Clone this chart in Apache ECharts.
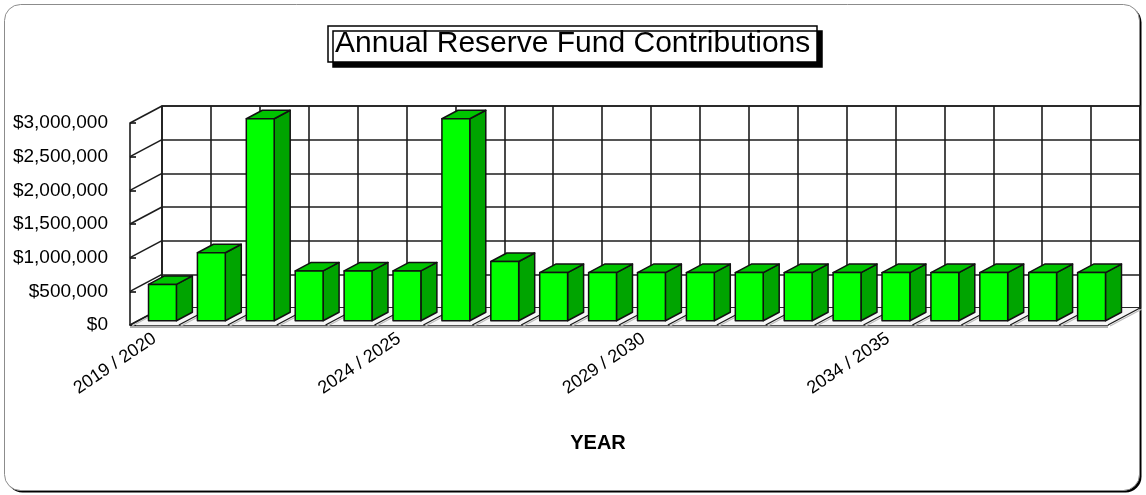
<!DOCTYPE html>
<html>
<head>
<meta charset="utf-8">
<script src="https://cdn.jsdelivr.net/npm/echarts@6/dist/echarts.min.js"></script>
<style>
html,body{margin:0;padding:0;background:#fff;}
#chart{width:1146px;height:495px;}
</style>
</head>
<body>
<div id="chart"></div>
<script>
// ---- data ----
const categories = [
  '2019 / 2020','2020 / 2021','2021 / 2022','2022 / 2023','2023 / 2024',
  '2024 / 2025','2025 / 2026','2026 / 2027','2027 / 2028','2028 / 2029',
  '2029 / 2030','2030 / 2031','2031 / 2032','2032 / 2033','2033 / 2034',
  '2034 / 2035','2035 / 2036','2036 / 2037','2037 / 2038','2038 / 2039'
];
const contributions = [
  540000, 1010000, 3000000, 740000, 740000, 740000, 3000000, 880000, 715000, 715000,
  715000, 715000, 715000, 715000, 715000, 715000, 715000, 715000, 715000, 715000
];
const yTickValues = [0, 500000, 1000000, 1500000, 2000000, 2500000, 3000000];
const yMin = 0, yMax = 3000000, yStep = 500000;
const titleText = 'Annual Reserve Fund Contributions';
const axisName = 'YEAR';

// ---- style constants ----
const DX = 32, DY = -17;          // depth offset of the back wall
const LINE = '#1c1c1c';
const FRONT = '#00ff00', TOP = '#00c400', SIDE = '#00a400';
const FONT = 'Liberation Sans, Arial, sans-serif';

const chart = echarts.init(document.getElementById('chart'), null, {renderer: 'canvas'});

function fmtMoney(v) {
  return '$' + Number(v).toLocaleString('en-US');
}

function renderWalls(params, api) {
  const cs = params.coordSys;
  const children = [];
  const y0 = api.coord([0, 0])[1];
  const n = categories.length;
  children.push({
    type: 'polygon', z2: 0,
    shape: {points: [[cs.x, y0], [cs.x + cs.width, y0], [cs.x + cs.width + DX, y0 + DY], [cs.x + DX, y0 + DY]]},
    style: {fill: '#f6f6f6', stroke: null}
  });
  yTickValues.forEach(function (v) {
    const p = api.coord([0, v]);
    children.push({
      type: 'line', z2: 2,
      shape: {x1: cs.x, y1: p[1], x2: cs.x + DX, y2: p[1] + DY},
      style: {stroke: LINE, lineWidth: 1.6}
    });
  });
  for (let i = 0; i <= n; i++) {
    const x = cs.x + i * cs.width / n;
    children.push({
      type: 'line', z2: 2,
      shape: {x1: x, y1: y0, x2: x + DX, y2: y0 + DY},
      style: {stroke: LINE, lineWidth: 1.4}
    });
    children.push({
      type: 'line', z2: 1,
      shape: {x1: x + 2, y1: y0 + 1, x2: x + DX + 2, y2: y0 + DY + 1},
      style: {stroke: '#bbbbbb', lineWidth: 1.2}
    });
  }
  children.push({
    type: 'line', z2: 1,
    shape: {x1: cs.x, y1: y0 + 2, x2: cs.x + cs.width, y2: y0 + 2},
    style: {stroke: '#b0b0b0', lineWidth: 2}
  });
  return {type: 'group', children: children};
}

function renderBar(params, api) {
  const idx = api.value(0), v = api.value(1);
  const base = api.coord([idx, 0]);
  const top = api.coord([idx, v]);
  const bw = api.size([1, 0])[0] * 0.57;
  const ox = DX * 0.25, oy = DY * 0.25;
  const dx = DX * 0.5, dy = DY * 0.5;
  const x0 = base[0] - bw / 2 + ox, x1 = x0 + bw;
  const yb = base[1] + oy, yt = top[1] + oy;
  const st = {stroke: '#111', lineWidth: 1.5, lineJoin: 'round'};
  return {
    type: 'group',
    children: [
      {type: 'polygon', shape: {points: [[x1, yb], [x1 + dx, yb + dy], [x1 + dx, yt + dy], [x1, yt]]},
        style: Object.assign({fill: SIDE}, st)},
      {type: 'polygon', shape: {points: [[x0, yt], [x0 + dx, yt + dy], [x1 + dx, yt + dy], [x1, yt]]},
        style: Object.assign({fill: TOP}, st)},
      {type: 'rect', shape: {x: x0, y: yt, width: bw, height: yb - yt},
        style: Object.assign({fill: FRONT}, st)}
    ]
  };
}

const option = {
  animation: false,
  backgroundColor: 'transparent',
  title: {
    text: titleText,
    left: 328,
    top: 26,
    padding: [3, 7, 3, 7],
    backgroundColor: '#fff',
    borderColor: '#000',
    borderWidth: 1.5,
    shadowColor: '#000',
    shadowBlur: 0,
    shadowOffsetX: 5,
    shadowOffsetY: 5,
    textStyle: {fontFamily: FONT, fontSize: 30, fontWeight: 'normal', color: '#000'}
  },
  graphic: [
    {type: 'rect', z: -10, shape: {x: 6.5, y: 6.5, width: 1135, height: 486, r: 16}, style: {fill: '#000'}},
    {type: 'rect', z: -9, shape: {x: 4.5, y: 4.5, width: 1135, height: 486, r: 16}, style: {fill: '#fff', stroke: '#8c8c8c', lineWidth: 1}}
  ],
  grid: [
    {left: 130, right: 38, top: 123, bottom: 170, show: false},
    {left: 162, right: 6, top: 106, bottom: 187, show: true, backgroundColor: '#fff', borderColor: LINE, borderWidth: 1.6}
  ],
  xAxis: [
    {
      type: 'category', gridIndex: 0, data: categories,
      axisLine: {show: true, lineStyle: {color: LINE, width: 1.6}},
      axisTick: {show: true, inside: true, alignWithLabel: true, interval: 0, length: 4, lineStyle: {color: '#000', width: 1.5}},
      axisLabel: {interval: 4, rotate: 34, margin: 12, fontFamily: FONT, fontSize: 18, color: '#000'},
      splitLine: {show: false},
      name: axisName, nameLocation: 'middle', nameGap: 108,
      nameTextStyle: {fontFamily: FONT, fontSize: 20, fontWeight: 'bold', color: '#000', padding: [0, 42, 0, 0]}
    },
    {
      type: 'category', gridIndex: 1, data: categories,
      axisLine: {show: false}, axisTick: {show: false}, axisLabel: {show: false},
      splitLine: {show: true, interval: 0, lineStyle: {color: LINE, width: 1.6}}
    }
  ],
  yAxis: [
    {
      type: 'value', gridIndex: 0, min: yMin, max: yMax, interval: yStep,
      axisLine: {show: true, lineStyle: {color: LINE, width: 1.6}},
      axisTick: {show: true, inside: true, length: 6, lineStyle: {color: '#000', width: 1.5}},
      axisLabel: {margin: 22, formatter: fmtMoney, fontFamily: FONT, fontSize: 19, color: '#000'},
      splitLine: {show: false}
    },
    {
      type: 'value', gridIndex: 1, min: yMin, max: yMax, interval: yStep,
      axisLine: {show: false}, axisTick: {show: false}, axisLabel: {show: false},
      splitLine: {show: true, lineStyle: {color: LINE, width: 1.6}}
    }
  ],
  series: [
    {
      type: 'custom', xAxisIndex: 0, yAxisIndex: 0, z: 1,
      renderItem: renderWalls, data: [[0]], silent: true
    },
    {
      type: 'custom', xAxisIndex: 0, yAxisIndex: 0, z: 3,
      renderItem: renderBar,
      encode: {x: 0, y: 1},
      data: contributions.map(function (v, i) { return [i, v]; })
    }
  ]
};
chart.setOption(option);
</script>
</body>
</html>
